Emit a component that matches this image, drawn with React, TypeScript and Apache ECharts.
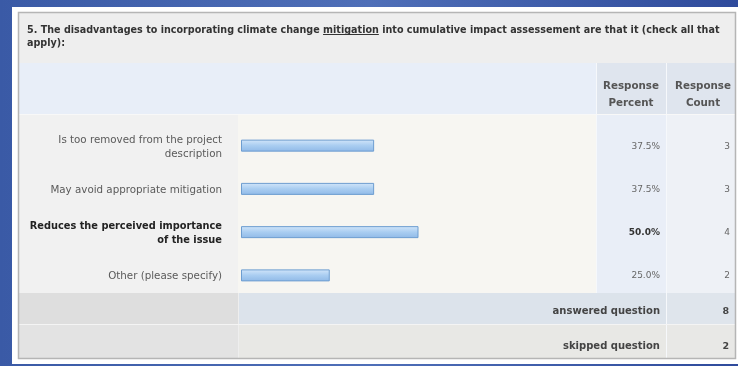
import { useEffect, useRef } from "react";
import * as echarts from "echarts";

const titleLines = [
  "5. The disadvantages to incorporating climate change mitigation into cumulative impact assessement are that it (check all that",
  "apply):",
];
const underlinedWord = "mitigation";
const headerLabels = ["Response\nPercent", "Response\nCount"];
const categories = [
  "Is too removed from the project\ndescription",
  "May avoid appropriate mitigation",
  "Reduces the perceived importance\nof the issue",
  "Other (please specify)",
];
const responsePercent = [37.5, 37.5, 50.0, 25.0];
const responseCount = [3, 3, 4, 2];
const footerLabels = ["answered question", "skipped question"];
const footerCounts = [8, 2];

const FONT = "'DejaVu Sans', Verdana, sans-serif";

export default function App() {
  const ref = useRef<HTMLDivElement>(null);
  useEffect(() => {
    if (!ref.current) return;
    const chart = echarts.init(ref.current, undefined, { renderer: "svg" });
    const maxVal = Math.max(...responsePercent);
    const boldIdx = responsePercent.indexOf(maxVal);

    const T = { l: 18, r: 735, t: 12, b: 358 };
    const colX = [18, 238, 596, 666, 735];
    const titleB = 63;
    const headB = 114;
    const dataB = 293;
    const ansB = 324;
    const titleSize = 9.6;
    const titleX = 27;

    // measure underline position
    let ulX1 = 0;
    let ulX2 = 0;
    try {
      const ctx = document.createElement("canvas").getContext("2d");
      if (ctx) {
        ctx.font = `bold ${titleSize}px ${FONT}`;
        const idx = titleLines[0].indexOf(underlinedWord);
        ulX1 = titleX + ctx.measureText(titleLines[0].slice(0, idx)).width;
        ulX2 = ulX1 + ctx.measureText(underlinedWord).width;
      }
    } catch (e) {
      /* ignore */
    }

    const rect = (x: number, y: number, w: number, h: number, fill: string, z = 0) => ({
      type: "rect",
      silent: true,
      z,
      shape: { x, y, width: w, height: h },
      style: { fill },
    });
    const vline = (x: number, y1: number, y2: number, stroke: string, z = 1) => ({
      type: "line",
      silent: true,
      z,
      shape: { x1: x, y1, x2: x, y2 },
      style: { stroke, lineWidth: 1 },
    });
    const hline = (y: number, x1: number, x2: number, stroke: string, z = 1) => ({
      type: "line",
      silent: true,
      z,
      shape: { x1, y1: y, x2, y2: y },
      style: { stroke, lineWidth: 1 },
    });
    const text = (
      s: string,
      x: number,
      y: number,
      opts: { size?: number; weight?: string; fill?: string; align?: string; lh?: number } = {}
    ) => ({
      type: "text",
      silent: true,
      z: 5,
      style: {
        text: s,
        x,
        y,
        fill: opts.fill || "#444",
        fontSize: opts.size || 9,
        fontWeight: opts.weight || "normal",
        fontFamily: FONT,
        lineHeight: opts.lh || 14,
        align: opts.align || "left",
        textAlign: opts.align || "left",
        verticalAlign: "middle",
        textVerticalAlign: "middle",
      },
    });

    const bg = {
      type: "rect",
      silent: true,
      z: -10,
      shape: { x: 0, y: 0, width: 738, height: 366 },
      style: {
        fill: new echarts.graphic.LinearGradient(0, 0, 1, 0, [
          { offset: 0, color: "#3a5aa6" },
          { offset: 0.5, color: "#4f6fb8" },
          { offset: 1, color: "#2f4b9c" },
        ]),
      },
    };

    const graphics: any[] = [
      bg,
      rect(12, 7, 726, 357, "#ffffff", -9),
      rect(T.l, T.t, T.r - T.l, titleB - T.t, "#eeeeee"),
      rect(T.l, titleB, colX[2] - T.l, headB - titleB, "#e8eef8"),
      rect(colX[2], titleB, colX[4] - colX[2], headB - titleB, "#dfe5ee"),
      rect(colX[0], headB, colX[1] - colX[0], dataB - headB, "#f1f1f1"),
      rect(colX[1], headB, colX[2] - colX[1], dataB - headB, "#f7f6f2"),
      rect(colX[2], headB, colX[3] - colX[2], dataB - headB, "#e9eef7"),
      rect(colX[3], headB, colX[4] - colX[3], dataB - headB, "#eef1f6"),
      rect(colX[0], dataB, colX[1] - colX[0], ansB - dataB, "#dedede"),
      rect(colX[1], dataB, colX[3] - colX[1], ansB - dataB, "#dce3eb"),
      rect(colX[3], dataB, colX[4] - colX[3], ansB - dataB, "#dfe5ec"),
      rect(colX[0], ansB, colX[1] - colX[0], T.b - ansB, "#e3e3e3"),
      rect(colX[1], ansB, colX[3] - colX[1], T.b - ansB, "#e8e8e5"),
      rect(colX[3], ansB, colX[4] - colX[3], T.b - ansB, "#e8e8e6"),
      vline(colX[2] + 0.5, titleB, dataB, "#f6f8fb"),
      vline(colX[3] + 0.5, titleB, T.b, "#f6f8fb"),
      vline(colX[1] + 0.5, dataB, T.b, "#eeeeee"),
      hline(ansB + 0.5, T.l, T.r, "#f4f4f4"),
      hline(headB + 0.5, T.l, T.r, "#f8f8f8"),
      {
        type: "rect",
        silent: true,
        z: 6,
        shape: { x: T.l + 0.5, y: T.t + 0.5, width: T.r - T.l, height: T.b - T.t },
        style: { fill: "none", stroke: "#b5b5b5", lineWidth: 1.5 },
      },
      text(titleLines[0], titleX, 29, { size: titleSize, weight: "bold", fill: "#333" }),
      text(titleLines[1], titleX, 42, { size: titleSize, weight: "bold", fill: "#333" }),
      text(headerLabels[0], 631, 93, { size: 10.3, weight: "bold", fill: "#555", align: "center", lh: 17 }),
      text(headerLabels[1], 703, 93, { size: 10.3, weight: "bold", fill: "#555", align: "center", lh: 17 }),
      text(footerLabels[0], 660, 310, { size: 10, weight: "bold", fill: "#444", align: "right" }),
      text(footerLabels[1], 660, 345, { size: 10, weight: "bold", fill: "#444", align: "right" }),
      text(String(footerCounts[0]), 729, 310, { size: 9.5, weight: "bold", fill: "#444", align: "right" }),
      text(String(footerCounts[1]), 729, 345, { size: 9.5, weight: "bold", fill: "#444", align: "right" }),
    ];
    if (ulX2 > ulX1) {
      graphics.push({ ...hline(34.5, ulX1, ulX2, "#333", 5) });
    }

    const wrap = (v: string, style: string) =>
      v
        .split("\n")
        .map((s) => `{${style}|${s}}`)
        .join("\n");

    chart.setOption({
      animation: false,
      graphic: graphics,
      grid: { left: 241, right: 738 - 596, top: 124, height: 173, containLabel: false },
      xAxis: { type: "value", min: 0, max: 100, show: false },
      yAxis: [
        {
          type: "category",
          inverse: true,
          data: categories,
          axisLine: { show: false },
          axisTick: { show: false },
          splitLine: { show: false },
          axisLabel: {
            margin: 19,
            formatter: (v: string, i: number) => wrap(v, i === boldIdx ? "b" : "n"),
            rich: {
              n: { fontSize: 10.3, color: "#5a5a5a", fontFamily: FONT, lineHeight: 14, align: "right" },
              b: { fontSize: 9.8, color: "#222", fontFamily: FONT, fontWeight: "bold", lineHeight: 14, align: "right" },
            },
          },
        },
        {
          type: "category",
          inverse: true,
          position: "right",
          data: responsePercent.map((p) => p.toFixed(1) + "%"),
          axisLine: { show: false },
          axisTick: { show: false },
          splitLine: { show: false },
          axisLabel: {
            margin: 64,
            align: "right",
            formatter: (v: string, i: number) => (i === boldIdx ? `{b|${v}}` : `{n|${v}}`),
            rich: {
              n: { fontSize: 9, color: "#666", fontFamily: FONT },
              b: { fontSize: 9, color: "#333", fontFamily: FONT, fontWeight: "bold" },
            },
          },
        },
        {
          type: "category",
          inverse: true,
          position: "right",
          data: responseCount.map(String),
          axisLine: { show: false },
          axisTick: { show: false },
          splitLine: { show: false },
          axisLabel: {
            margin: 134,
            align: "right",
            fontSize: 9,
            color: "#666",
            fontFamily: FONT,
          },
        },
      ],
      series: [
        {
          type: "bar",
          yAxisIndex: 0,
          data: responsePercent,
          barWidth: 12,
          itemStyle: {
            color: new echarts.graphic.LinearGradient(0, 0, 0, 1, [
              { offset: 0, color: "#cfe4f9" },
              { offset: 0.5, color: "#a9cdf1" },
              { offset: 1, color: "#92bbe8" },
            ]),
            borderColor: "#6d9dd0",
            borderWidth: 1,
          },
        },
      ],
    });
    return () => chart.dispose();
  }, []);
  return <div ref={ref} style={{ position: "fixed", left: 0, top: 0, width: 738, height: 366 }} />;
}
